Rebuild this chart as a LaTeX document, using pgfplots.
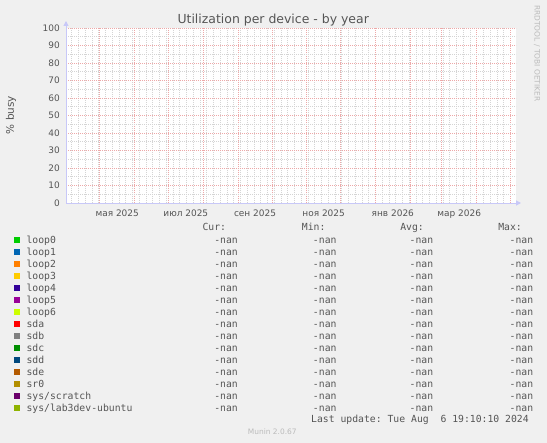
\documentclass[border=0pt]{standalone}
\usepackage{fontspec}
\setmainfont{DejaVu Sans}
\setmonofont{DejaVu Sans Mono}
\usepackage{pgfplots}
\pgfplotsset{compat=1.18}
\usetikzlibrary{arrows.meta}
\definecolor{bg}{HTML}{F0F0F0}
\definecolor{txt}{HTML}{555555}
\definecolor{faint}{HTML}{BBBBBB}
\definecolor{gridred}{HTML}{EDA8A8}
\definecolor{gridgray}{HTML}{D4D4D4}
\definecolor{axiscol}{HTML}{C8C8F8}
\definecolor{cloopA}{HTML}{00CC00}
\definecolor{cloopB}{HTML}{0066B3}
\definecolor{cloopC}{HTML}{FF8000}
\definecolor{cloopD}{HTML}{FFCC00}
\definecolor{cloopE}{HTML}{330099}
\definecolor{cloopF}{HTML}{990099}
\definecolor{cloopG}{HTML}{CCFF00}
\definecolor{csda}{HTML}{FF0000}
\definecolor{csdb}{HTML}{808080}
\definecolor{csdc}{HTML}{008F00}
\definecolor{csdd}{HTML}{00487D}
\definecolor{csde}{HTML}{B35A00}
\definecolor{csr}{HTML}{B38F00}
\definecolor{cscr}{HTML}{6B006B}
\definecolor{clab}{HTML}{8FB300}
\newcommand{\mono}{\ttfamily\fontsize{9.8}{11}\selectfont}
\begin{document}
\begin{tikzpicture}[x=1bp,y=-1bp]
\path[use as bounding box, fill=bg] (0,0) rectangle (547,443);
\begin{axis}[
  at={(66bp,-203bp)}, anchor=south west,
  width=450bp, height=175bp, scale only axis,
  xmin=0, xmax=400, ymin=0, ymax=100,
  axis background/.style={fill=white},
  axis lines=left,
  axis line style={draw=axiscol, line width=1bp, -{Triangle[length=5bp,width=5bp]}},
  x axis line style={shorten >=-5bp},
  y axis line style={shorten >=-7bp},
  major tick length=0pt, minor tick length=0pt,
  xtick={30,61,91,122,153,183,214,244,275,306,334,365,395},
  xticklabels={},
  minor xtick={5,11,...,395},
  extra x ticks={45.5,106.5,168,229,290.5,349.5},
  extra x tick labels={мая 2025,июл 2025,сен 2025,ноя 2025,янв 2026,мар 2026},
  extra x tick style={grid=none, major tick length=0pt},
  ytick={0,10,...,100},
  minor ytick={5,15,...,95},
  grid=both,
  major grid style={draw=gridred, dash pattern=on 1bp off 1bp, line width=0.6bp},
  minor grid style={draw=gridgray, dash pattern=on 1bp off 1bp, line width=0.6bp},
  tick label style={font=\fontsize{9}{10}\selectfont, text=txt},
  /pgf/number format/assume math mode=true,
  xticklabel style={anchor=base, yshift=-13bp},
  yticklabel style={anchor=east, inner sep=0pt, xshift=-6bp},
  clip=false,
]
\end{axis}
% title and side texts
\node[anchor=base, font=\fontsize{12.5}{14}\selectfont, text=txt] at (273.2,24) {Utilization per device - by year};
\node[rotate=90, font=\fontsize{10.5}{12}\selectfont, text=txt] at (11,115) {\% busy};
\node[rotate=-90, anchor=west, inner sep=0pt, font=\fontsize{7.5}{9}\selectfont, text=faint] at (537,5) {RRDTOOL / TOBI OETIKER};
\node[anchor=base, font=\fontsize{7.5}{9}\selectfont, text=faint] at (272.3,434) {Munin 2.0.67};
% legend header
\node[anchor=base east, inner sep=0pt, font=\mono, text=txt] at (226.3,231) {Cur:};
\node[anchor=base east, inner sep=0pt, font=\mono, text=txt] at (325.6,231) {Min:};
\node[anchor=base east, inner sep=0pt, font=\mono, text=txt] at (424,231) {Avg:};
\node[anchor=base east, inner sep=0pt, font=\mono, text=txt] at (522,231) {Max:};
% legend rows
\foreach \nm/\cl [count=\i from 0] in {loop0/cloopA,loop1/cloopB,loop2/cloopC,loop3/cloopD,loop4/cloopE,loop5/cloopF,loop6/cloopG,sda/csda,sdb/csdb,sdc/csdc,sdd/csdd,sde/csde,sr0/csr,{sys/scratch}/cscr,{sys/lab3dev-ubuntu}/clab}{
  \pgfmathsetmacro{\yy}{240+12*\i}
  \fill[\cl] (14,\yy-3) rectangle (20,\yy+3);
  \node[anchor=base west, inner sep=0pt, font=\mono, text=txt] at (26.4,\yy+3.7) {\nm};
  \node[anchor=base east, inner sep=0pt, font=\mono, text=txt] at (238,\yy+3.7) {-nan};
  \node[anchor=base east, inner sep=0pt, font=\mono, text=txt] at (336.7,\yy+3.7) {-nan};
  \node[anchor=base east, inner sep=0pt, font=\mono, text=txt] at (433.4,\yy+3.7) {-nan};
  \node[anchor=base east, inner sep=0pt, font=\mono, text=txt] at (533.4,\yy+3.7) {-nan};
}
\node[anchor=base west, inner sep=0pt, font=\mono, text=txt] at (311,422) {Last update: Tue Aug\ \ 6 19:10:10 2024};
\end{tikzpicture}
\end{document}
